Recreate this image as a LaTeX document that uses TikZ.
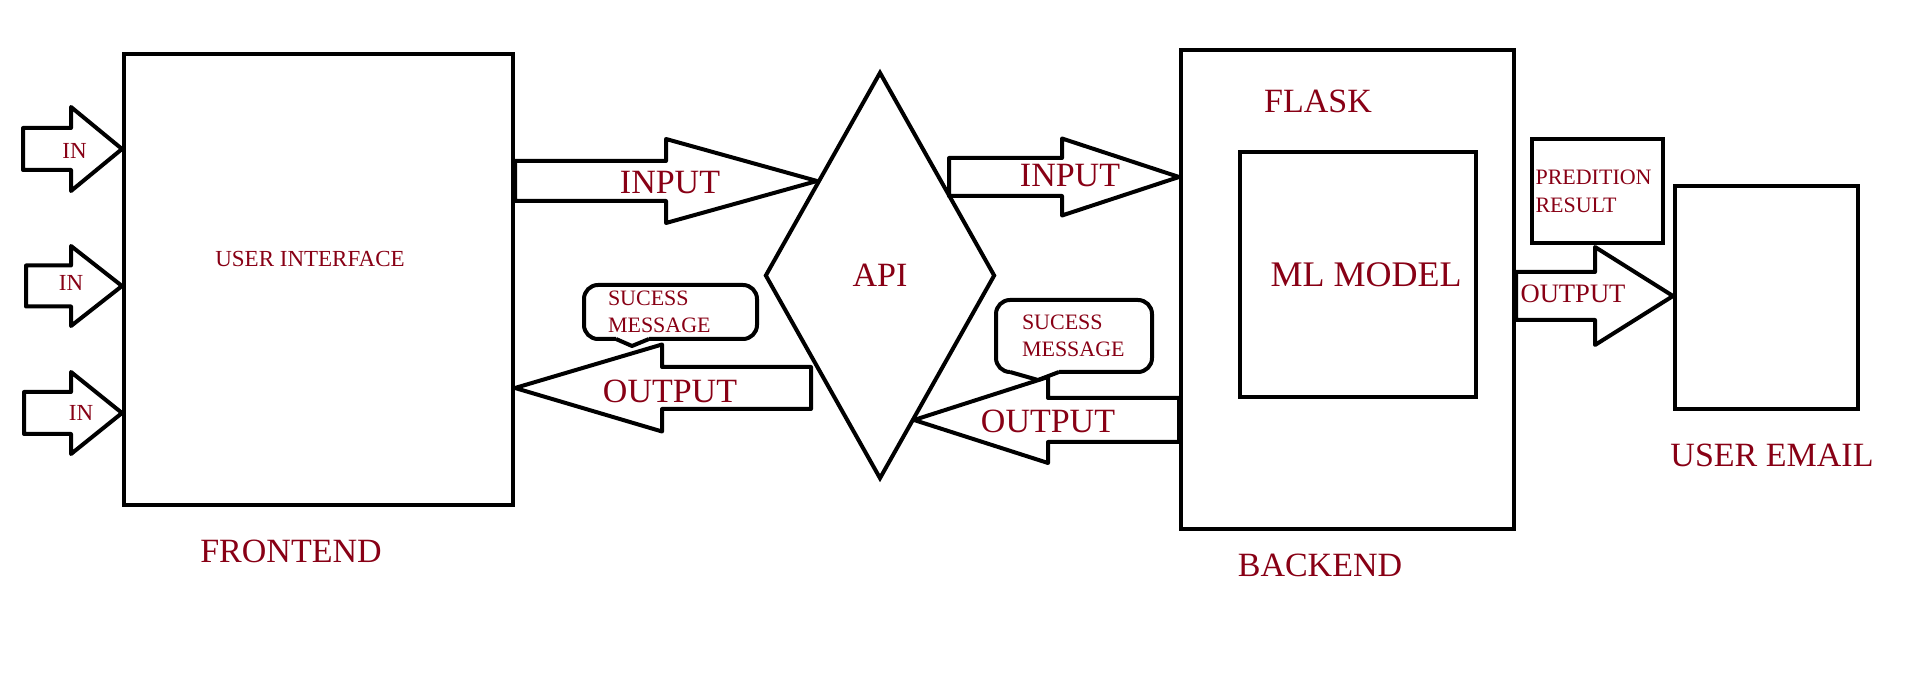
\documentclass[tikz,border=0pt]{standalone}
\usepackage{fontspec}
\setmainfont{Liberation Serif}
\usepackage{tikz}
\usetikzlibrary{shapes.geometric,calc}
\definecolor{dred}{RGB}{136,0,21}
\tikzset{
  bx/.style = {rectangle, draw=black, line width=2pt, inner sep=0pt},% plain box
  lb/.style = {text=dred, inner sep=0pt, font=\fontsize{17}{20}\selectfont},% big label
  sm/.style = {lb, font=\fontsize{11.5}{14}\selectfont},% small label
  bb/.style = {bx, rounded corners=7pt, align=left, text=dred,
    font=\fontsize{11}{13.5}\selectfont},% message bubble
  dm/.style = {diamond, draw=black, line width=2pt, inner sep=0pt,
    text=dred, font=\fontsize{17}{20}\selectfont},% api
  fat/.style = {draw=black, line width=2pt, line join=round}% block arrow
}
% tail, tip, shaft half, head half, head back (signed)
\newcommand{\fatarrow}[5]{%
  \draw[fat] ($(#1)+(0,#3)$) -- ($(#2)+(#5,#3)$) -- ($(#2)+(#5,#4)$) -- (#2)
    -- ($(#2)+(#5,-#4)$) -- ($(#2)+(#5,-#3)$) -- ($(#1)+(0,-#3)$) -- cycle;}

\begin{document}
\begin{tikzpicture}[x=0.5pt,y=-0.5pt]
\fill[white] (0,0) rectangle (1912,683);
\useasboundingbox (0,0) rectangle (1912,683);
% frontend
\node [bx, minimum width=194.5pt, minimum height=225.5pt] (fe) at (318.5,279.5) {};
\node [sm] (ui) at (310,259) {USER INTERFACE};
\node [lb] (feL) at (291,551) {FRONTEND};
% api
\node [dm, minimum width=115pt, minimum height=203.5pt] (api) at (880,275.5) {API};
% backend
\node [bx, minimum width=166.5pt, minimum height=239.5pt] (be) at (1347.5,289.5) {};
\node [lb] (fl) at (1318,101) {FLASK};
\node [bx, minimum width=118pt, minimum height=122.5pt] (ml) at (1358,274.5) {};
\node [lb, font=\fontsize{18}{21}\selectfont] (mlL) at (1366,275) {ML MODEL};
\node [lb] (beL) at (1320,565) {BACKEND};
% result and email
\node [bx, text=dred, align=left, text width=62pt, inner xsep=1.75pt,
  minimum height=52pt, font=\fontsize{11}{14}\selectfont] (pr) at (1597.5,191) {PREDITION\\RESULT};
\node [bx, minimum width=91.5pt, minimum height=111.5pt] (em) at (1766.5,297.5) {};
\node [lb] (emL) at (1772,455) {USER EMAIL};
% message bubbles
\node [bb, text width=62.5pt, inner xsep=12pt, minimum height=27pt] (msgA) at (670.5,312) {SUCESS\\MESSAGE};
\fill[white] (616,336) rectangle (649,342);
\draw[fat] (616,339) -- (632,346) -- (649,339);
\node [bb, text width=52pt, inner xsep=13pt, minimum height=36pt] (msgB) at (1074,336) {SUCESS\\MESSAGE};
\fill[white] (1010,369) rectangle (1059,375);
\draw[fat] (1010,372) -- (1038,380) -- (1059,372);
% in arrows
\coordinate (inA) at (23,149);  \coordinate (inAt) at (fe.west |- inA);
\coordinate (inB) at (26,286);  \coordinate (inBt) at (fe.west |- inB);
\coordinate (inC) at (24,413);  \coordinate (inCt) at (fe.west |- inC);
\fatarrow{inA}{inAt}{21}{42}{-51}
\fatarrow{inB}{inBt}{20.5}{40}{-51}
\fatarrow{inC}{inCt}{21}{41}{-51}
\node [sm] (inAL) at (74.5,150.5) {IN};
\node [sm] (inBL) at (71,283) {IN};
\node [sm] (inCL) at (81,413) {IN};
% frontend <-> api
\coordinate (upA) at (fe.east |- 0,181);  \coordinate (upAt) at (817,181);
\fatarrow{upA}{upAt}{20}{42}{-151}
\node [lb] (upAL) at (670,183) {INPUT};
\coordinate (dnA) at (811,388);  \coordinate (dnAt) at (fe.east |- dnA);
\fatarrow{dnA}{dnAt}{21}{43.5}{147}
\node [lb] (dnAL) at (670,391) {OUTPUT};
% api <-> backend
\coordinate (upB) at (949,177);  \coordinate (upBt) at (be.west |- upB);
\fatarrow{upB}{upBt}{19}{38.5}{-117}
\node [lb] (upBL) at (1070,176) {INPUT};
\coordinate (dnB) at (be.west |- 0,420);  \coordinate (dnBt) at (914,420);
\fatarrow{dnB}{dnBt}{22}{43}{134}
\node [lb] (dnBL) at (1048,421) {OUTPUT};
% backend -> email
\coordinate (out) at (be.east |- 0,296);  \coordinate (outt) at (em.west |- out);
\fatarrow{out}{outt}{24}{49}{-78}
\node [lb, font=\fontsize{13.3}{16}\selectfont] (outL) at (1573,294) {OUTPUT};
\end{tikzpicture}
\end{document}
